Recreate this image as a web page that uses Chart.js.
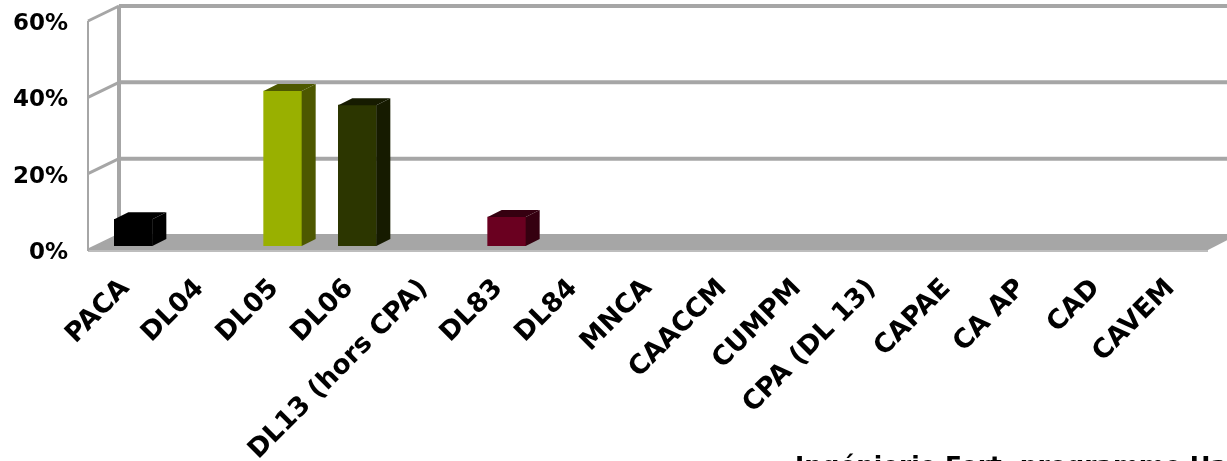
<!DOCTYPE html>
<html>
<head>
<meta charset="utf-8">
<style>
  html, body { margin: 0; padding: 0; background: #fff; overflow: hidden; }
  #wrap { width: 1227px; height: 461px; }
</style>
<script src="https://cdn.jsdelivr.net/npm/chart.js@4"></script>
</head>
<body>
<div id="wrap"><canvas id="chart" width="1227" height="461"></canvas></div>
<script>
// -----------------------------
// DATA
// -----------------------------
const categories = ['PACA', 'DL04', 'DL05', 'DL06', 'DL13 (hors CPA)', 'DL83', 'DL84', 'MNCA',
  'CAACCM', 'CUMPM', 'CPA (DL 13)', 'CAPAE', 'CA AP', 'CAD', 'CAVEM'];
const values = [7, 0, 40.6, 36.9, 0, 7.6, 0, 0, 0, 0, 0, 0, 0, 0, 0];
const frontColors = ['#000000', 'transparent', '#99b000', '#2c3600', 'transparent', '#6a0020',
  'transparent', 'transparent', 'transparent', 'transparent', 'transparent', 'transparent',
  'transparent', 'transparent', 'transparent'];
const sideColors = ['#000000', 'transparent', '#4d5800', '#161b00', 'transparent', '#350010',
  'transparent', 'transparent', 'transparent', 'transparent', 'transparent', 'transparent',
  'transparent', 'transparent', 'transparent'];
const yTicks = [0, 20, 40, 60];
const chartTitle = 'Ingénierie Fort, programme Ha';

// -----------------------------
// 3D LOOK
// -----------------------------
const GREY = '#a6a6a6';
const wallDepth = { x: 31, y: -15 };   // back wall offset from the front plane
const barDepth = { x: 14, y: -7 };

const walls = {
  id: 'walls',
  beforeDatasetsDraw(chart) {
    const { ctx, scales } = chart;
    const y = scales.y;
    const frontLeft = scales.x.left - 8;
    const frontRight = scales.x.right - 8;
    const shift = { x: -8, y: 4 };        // bars stand half way into the floor
    ctx.save();

    // floor
    const floorY = y.getPixelForValue(0) + shift.y;
    ctx.fillStyle = GREY;
    ctx.beginPath();
    ctx.moveTo(frontLeft, floorY);
    ctx.lineTo(frontRight, floorY);
    ctx.lineTo(frontRight + wallDepth.x, floorY + wallDepth.y - 1);
    ctx.lineTo(frontLeft + wallDepth.x, floorY + wallDepth.y - 1);
    ctx.closePath();
    ctx.fill();

    ctx.strokeStyle = GREY;

    // back grid lines and the slants on the left wall
    yTicks.forEach(v => {
      const py = y.getPixelForValue(v) + shift.y;
      if (v > 0) {
        ctx.lineWidth = 4;
        ctx.beginPath();
        ctx.moveTo(frontLeft + wallDepth.x, py + wallDepth.y);
        ctx.lineTo(chart.width, py + wallDepth.y);
        ctx.stroke();
      }
      ctx.lineWidth = 3;
      ctx.beginPath();
      ctx.moveTo(frontLeft, py);
      ctx.lineTo(frontLeft + wallDepth.x, py + wallDepth.y);
      ctx.stroke();
    });

    // front edge of the floor
    ctx.strokeStyle = '#bdbdbd';
    ctx.lineWidth = 2;
    ctx.beginPath();
    ctx.moveTo(frontLeft, floorY + 1);
    ctx.lineTo(frontRight, floorY + 1);
    ctx.stroke();
    ctx.strokeStyle = GREY;

    // wall verticals
    const top = y.getPixelForValue(60) + shift.y;
    ctx.lineWidth = 2;
    ctx.beginPath();
    ctx.moveTo(frontLeft, floorY + 1);
    ctx.lineTo(frontLeft, top);
    ctx.stroke();
    ctx.lineWidth = 4;
    ctx.beginPath();
    ctx.moveTo(frontLeft + wallDepth.x, floorY + wallDepth.y);
    ctx.lineTo(frontLeft + wallDepth.x, top + wallDepth.y);
    ctx.stroke();

    ctx.restore();
  },
  afterDatasetsDraw(chart) {
    // side and top faces, taken from the bars chart.js laid out
    const { ctx } = chart;
    const bars = chart.getDatasetMeta(0).data;
    ctx.save();
    bars.forEach((bar, i) => {
      if (!values[i]) return;
      const half = bar.width / 2;
      const r = bar.x + half;
      const l = bar.x - half;
      ctx.fillStyle = sideColors[i];
      ctx.beginPath();
      ctx.moveTo(r, bar.base);
      ctx.lineTo(r + barDepth.x, bar.base + barDepth.y);
      ctx.lineTo(r + barDepth.x, bar.y + barDepth.y);
      ctx.lineTo(r, bar.y);
      ctx.closePath();
      ctx.fill();
      ctx.beginPath();
      ctx.moveTo(l, bar.y);
      ctx.lineTo(l + barDepth.x, bar.y + barDepth.y);
      ctx.lineTo(r + barDepth.x, bar.y + barDepth.y);
      ctx.lineTo(r, bar.y);
      ctx.closePath();
      ctx.fill();
    });
    ctx.restore();
  },
  afterDraw(chart) {
    const { ctx } = chart;
    ctx.save();
    ctx.fillStyle = '#000';
    ctx.font = 'bold 24.7px "DejaVu Sans"';
    ctx.textAlign = 'left';
    ctx.textBaseline = 'alphabetic';
    ctx.fillText(chartTitle, 795, 474);
    ctx.restore();
  }
};

// -----------------------------
// CHART
// -----------------------------
new Chart(document.getElementById('chart'), {
  type: 'bar',
  data: {
    labels: categories,
    datasets: [{
      data: values,
      backgroundColor: frontColors,
      barThickness: 38,
      borderWidth: 0
    }]
  },
  options: {
    responsive: false,
    animation: false,
    layout: { padding: { top: 17, right: 11, bottom: 0, left: 0 } },
    plugins: { legend: { display: false }, tooltip: { enabled: false } },
    scales: {
      x: {
        grid: { display: false, drawTicks: false },
        border: { display: false },
        afterFit(scale) { scale.height = 461 - 246; scale.paddingLeft = 0; scale.paddingRight = 0; },
        ticks: {
          autoSkip: false,
          minRotation: 45,
          maxRotation: 45,
          padding: 27,
          labelOffset: -8,
          color: '#000',
          font: { family: '"DejaVu Sans"', size: 26.5, weight: 'bold' }
        }
      },
      y: {
        min: 0,
        max: 60,
        afterFit(scale) { scale.width = 96; scale.paddingTop = 0; scale.paddingBottom = 0; },
        grid: { display: false, drawTicks: false },
        border: { display: false },
        ticks: {
          stepSize: 20,
          padding: 28,
          labelOffset: 7,
          color: '#000',
          font: { family: '"DejaVu Sans"', size: 23, weight: 'bold' },
          callback: v => v + '%'
        }
      }
    }
  },
  plugins: [walls]
});
</script>
</body>
</html>
